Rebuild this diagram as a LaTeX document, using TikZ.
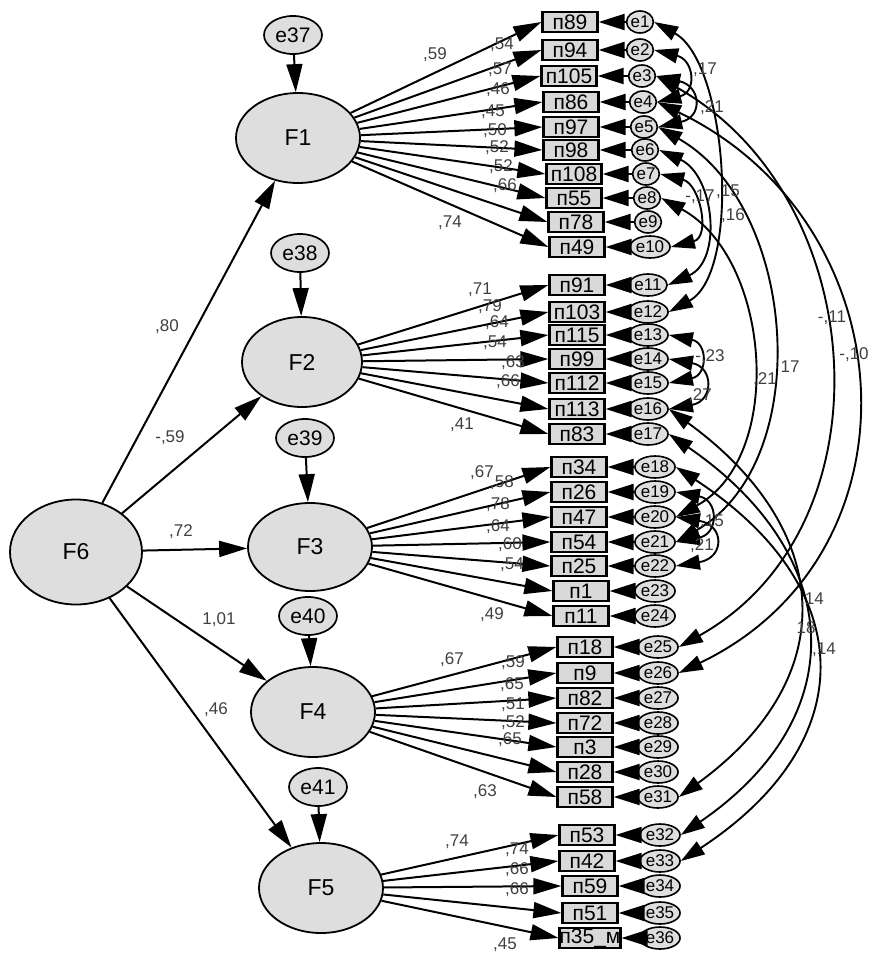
\documentclass[tikz,border=0pt]{standalone}
\usepackage{fontspec}
\setmainfont{Liberation Sans}
\usetikzlibrary{arrows.meta,shapes.geometric}
\begin{document}
\begin{tikzpicture}[x=1pt,y=-1pt,
  lat/.style={ellipse, draw, line width=1.8pt, fill=black!13, inner sep=0pt, font=\fontsize{23}{24}\selectfont},
  dist/.style={ellipse, draw, line width=1.7pt, fill=black!13, minimum width=58pt, minimum height=38pt, inner sep=0pt, font=\fontsize{21}{22}\selectfont},
  ind/.style={rectangle, draw, line width=2.2pt, fill=black!15, minimum width=55pt, minimum height=20pt, inner sep=0pt, font=\fontsize{21}{21}\selectfont},
  res/.style={ellipse, draw, line width=1.6pt, fill=black!13, minimum width=26pt, minimum height=22pt, inner sep=0pt, font=\fontsize{17}{17}\selectfont},
  arr/.style={line width=2pt, -{Triangle[length=28pt,width=16pt]}},
  rarr/.style={line width=2pt, -{Triangle[length=26pt,width=16pt]}},
  cov/.style={line width=1.9pt, {Triangle[length=24pt,width=15pt]}-{Triangle[length=24pt,width=15pt]}},
  coef/.style={font=\fontsize{17}{17}\selectfont, text=black!75, inner sep=1pt}
]
\useasboundingbox[fill=white] (0,0) rectangle (871,953);

% latent factors
\node[lat, minimum width=124pt, minimum height=90pt] (F1) at (298,138) {F1};
\node[lat, minimum width=120pt, minimum height=90pt] (F2) at (302,362) {F2};
\node[lat, minimum width=124pt, minimum height=88pt] (F3) at (310,547) {F3};
\node[lat, minimum width=124pt, minimum height=90pt] (F4) at (313,712) {F4};
\node[lat, minimum width=124pt, minimum height=90pt] (F5) at (321,888) {F5};
\node[lat, minimum width=132pt, minimum height=105pt] (F6) at (76,552) {F6};

% disturbances
\node[dist] (e37) at (293,35) {e37};
\node[dist] (e38) at (300,253) {e38};
\node[dist] (e39) at (305,438) {e39};
\node[dist] (e40) at (308,616) {e40};
\node[dist] (e41) at (318,787) {e41};

% indicators
\foreach \n/\x/\y/\t in {
 1/570/22/п89, 2/570/50/п94, 3/569/76/п105, 4/571/102/п86, 5/571/127/п97,
 6/571/150/п98, 7/574/174/п108, 8/574/198/п55, 9/576/222/п78, 10/577/247/п49,
 11/577/285/п91, 12/577/312/п103, 13/577/335/п115, 14/577/359/п99, 15/577/383/п112,
 16/577/409/п113, 17/577/434/п83,
 18/579/467/п34, 19/579/492/п26, 20/579/517/п47, 21/579/542/п54, 22/579/566/п25,
 23/581/591/п1, 24/581/616/п11,
 25/585/647/п18, 26/585/673/п9, 27/585/698/п82, 28/585/723/п72, 29/585/747/п3,
 30/585/772/п28, 31/585/797/п58,
 32/587/835/п53, 33/587/861/п42, 34/590/886/п59, 35/590/913/п51}
  \node[ind] (i\n) at (\x,\y) {\t};
\node[ind, minimum width=58pt] (i36) at (590,938) {п35\_м};

% residuals
\foreach \n/\x/\y in {
 1/640/22, 2/640/50, 3/642/76, 4/643/102, 5/644/127, 6/645/150, 7/646/174,
 8/647/198, 9/648/222, 10/650/247,
 11/648/285, 12/648/312, 13/648/335, 14/648/359, 15/648/383, 16/648/409, 17/648/434,
 18/655/467, 19/655/492, 20/655/517, 21/655/542, 22/655/566, 23/655/591, 24/655/616,
 25/658/647, 26/658/673, 27/658/698, 28/658/723, 29/658/747, 30/658/772, 31/658/797,
 32/660/835, 33/660/861, 34/660/886, 35/660/913, 36/660/938}
  \node[res] (e\n) at (\x,\y) {e\n};

% structural paths
\foreach \f in {1,...,5} \draw[arr] (F6) -- (F\f);
\draw[arr] (e37) -- (F1);
\draw[arr] (e38) -- (F2);
\draw[arr] (e39) -- (F3);
\draw[arr] (e40) -- (F4);
\draw[arr] (e41) -- (F5);

% loadings
\foreach \i in {1,...,10} \draw[arr] (F1) -- (i\i.west);
\foreach \i in {11,...,17} \draw[arr] (F2) -- (i\i.west);
\foreach \i in {18,...,24} \draw[arr] (F3) -- (i\i.west);
\foreach \i in {25,...,31} \draw[arr] (F4) -- (i\i.west);
\foreach \i in {32,...,36} \draw[arr] (F5) -- (i\i.west);

% residual arrows
\foreach \i in {1,...,36} \draw[rarr] (e\i) -- (i\i);

% covariances
\draw[cov] (e2.east) .. controls +(40,10) and +(40,-10) .. (e4.east);
\draw[cov] (e3.east) .. controls +(45,10) and +(45,-10) .. (e5.east);
\draw[cov] (e1.east) .. controls +(73,40) and +(73,-40) .. (e12.east);
\draw[cov] (e6.east) .. controls +(55,25) and +(55,-25) .. (e11.east);
\draw[cov] (e7.east) .. controls +(40,10) and +(40,-10) .. (e10.east);
\draw[cov] (e3.east) .. controls +(215,120) and +(215,-120) .. (e25.east);
\draw[cov] (e4.east) .. controls +(250,120) and +(250,-120) .. (e26.east);
\draw[cov] (e5.east) .. controls +(140,80) and +(140,-80) .. (e21.east);
\draw[cov] (e8.east) .. controls +(110,60) and +(110,-60) .. (e20.east);
\draw[cov] (e13.east) .. controls +(39,8) and +(39,-8) .. (e15.east);
\draw[cov] (e14.east) .. controls +(45,8) and +(45,-8) .. (e16.east);
\draw[cov] (e16.east) .. controls +(165,120) and +(165,-120) .. (e31.east);
\draw[cov] (e17.east) .. controls +(175,120) and +(175,-120) .. (e32.east);
\draw[cov] (e18.east) .. controls +(183,120) and +(183,-120) .. (e33.east);
\draw[cov] (e19.east) .. controls +(43,8) and +(43,-8) .. (e21.east);
\draw[cov] (e20.east) .. controls +(49,8) and +(49,-8) .. (e22.east);

% coefficients
\foreach \x/\y/\t [count=\k] in {
 167/327/{,80}, 170/438/{-,59}, 181/532/{,72}, 219/620/{1,01}, 216/710/{,46},
 435/55/{,59}, 502/45/{,54}, 500/70/{,57}, 498/90/{,46}, 493/112/{,45},
 495/131/{,50}, 497/148/{,52}, 501/167/{,52}, 505/186/{,66}, 450/223/{,74},
 480/290/{,71}, 490/307/{,79}, 497/323/{,64}, 495/343/{,54}, 513/363/{,63},
 508/382/{,66}, 462/425/{,41},
 482/473/{,67}, 502/483/{,58}, 498/505/{,78}, 498/527/{,64}, 510/545/{,60},
 512/565/{,54}, 492/615/{,49},
 452/660/{,67}, 513/663/{,59}, 512/685/{,65}, 513/705/{,51}, 513/723/{,52},
 510/740/{,65}, 485/792/{,63},
 457/842/{,74}, 517/850/{,74}, 517/870/{,66}, 517/890/{,66}, 505/945/{,45},
 705/70/{,17}, 712/108/{,21}, 700/197/{-,17}, 728/192/{,15}, 733/216/{,16},
 832/318/{-,11}, 854/355/{-,10}, 710/357/{-,23}, 700/396/{,27}, 765/380/{,21},
 790/367/{17}, 712/522/{,15}, 702/546/{,21}, 812/600/{,14}, 806/628/{18},
 824/650/{,14}}
  \node[coef] (c\k) at (\x,\y) {\t};
\end{tikzpicture}
\end{document}
